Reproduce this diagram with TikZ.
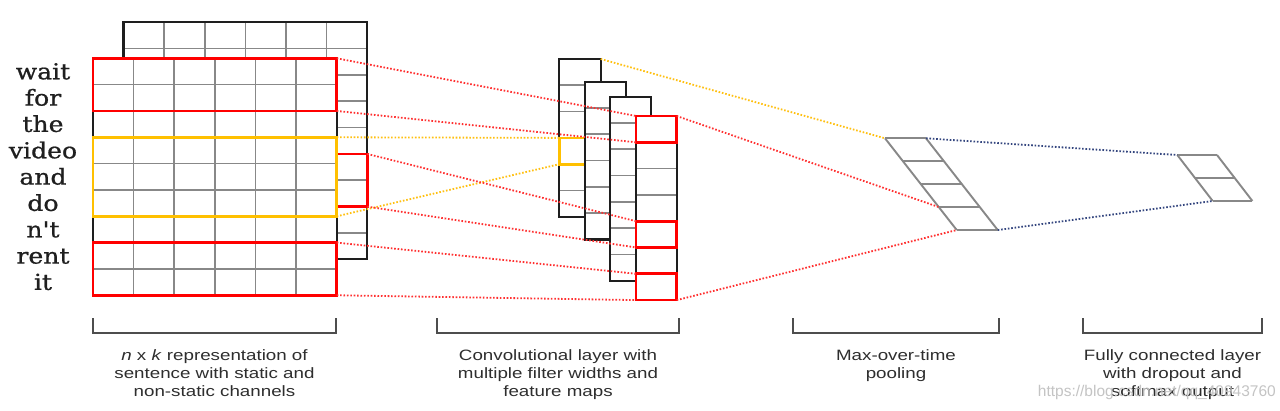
\documentclass[tikz,border=0pt]{standalone}
\usepackage{fontspec}
\usepackage{graphicx}
\setmainfont{Liberation Sans}
\newfontfamily\wordfont{DejaVu Serif}[FakeBold=0.8]
\newfontfamily\capfont{Liberation Sans}

\definecolor{gridgray}{HTML}{888888}
\definecolor{frameblack}{HTML}{1E1E1E}
\definecolor{selred}{HTML}{FF0000}
\definecolor{selyellow}{HTML}{FFC000}
\definecolor{dotred}{HTML}{FF3030}
\definecolor{dotyellow}{HTML}{FFC010}
\definecolor{dotblue}{HTML}{34467F}
\definecolor{txtgray}{HTML}{2E2E2E}
\definecolor{markgray}{HTML}{C4C4C4}

\pgfdeclarelayer{behind}
\pgfsetlayers{behind,main}

% caption block, slightly widened
\newcommand{\capt}[1]{\scalebox{1.25}[1]{\begin{tabular}{@{}c@{}}#1\end{tabular}}}
% one word of the sentence
\newcommand{\wordtxt}[1]{\scalebox{1.14}[1]{#1}}

\begin{document}
\begin{tikzpicture}[x=1pt,y=-1pt,
  sheet/.style={anchor=north west,inner sep=0pt,outer sep=0pt,fill=white,draw=none},
  gridline/.style={draw=gridgray,line width=1.6pt},
  frameline/.style={draw=frameblack,line width=2.1pt,line join=miter},
  redsel/.style={anchor=north west,inner sep=0pt,outer sep=0pt,draw=selred,line width=2.7pt},
  yelsel/.style={anchor=north west,inner sep=0pt,outer sep=0pt,draw=selyellow,line width=2.7pt},
  reddot/.style={draw=dotred,line width=1.8pt,dash pattern=on 1.6pt off 1.8pt},
  yeldot/.style={draw=dotyellow,line width=1.8pt,dash pattern=on 1.6pt off 1.8pt},
  bluedot/.style={draw=dotblue,line width=1.8pt,dash pattern=on 1.6pt off 1.8pt},
  slant/.style={draw=gridgray,line width=1.9pt},
  bracket/.style={draw=txtgray!85,line width=1.4pt},
  caption/.style={anchor=north,inner sep=0pt,text=txtgray,font={\capfont\fontsize{15}{18}\selectfont}},
  word/.style={anchor=base,inner sep=0pt,text=black!88,font={\wordfont\fontsize{22}{26}\selectfont}}
]
\useasboundingbox (0,0) rectangle (1280,411);
\fill[white] (0,0) rectangle (1280,411);

% ---------- input matrix: back channel ----------
\node[sheet,minimum width=243.8pt,minimum height=237pt] (back) at (123.5,22.3) {};
\foreach \i in {1,...,8}
  \draw[gridline] ([yshift=-\i*26.33pt]back.north west) -- ([yshift=-\i*26.33pt]back.north east);
\foreach \j in {1,...,5}
  \draw[gridline] ([xshift=\j*40.63pt]back.north west) -- ([xshift=\j*40.63pt]back.south west);
\draw[frameline] (back.north west) rectangle (back.south east);
\node[redsel,minimum width=243.8pt,minimum height=52.66pt] (backsel) at ([yshift=-5*26.33pt]back.north west) {};

% ---------- input matrix: front channel ----------
\node[sheet,minimum width=243.7pt,minimum height=237pt] (front) at (93,58.3) {};
\foreach \i in {1,...,8}
  \draw[gridline] ([yshift=-\i*26.33pt]front.north west) -- ([yshift=-\i*26.33pt]front.north east);
\foreach \j in {1,...,5}
  \draw[gridline] ([xshift=\j*40.62pt]front.north west) -- ([xshift=\j*40.62pt]front.south west);
\draw[frameline] (front.north west) rectangle (front.south east);
\node[redsel,minimum width=243.7pt,minimum height=52.66pt] (sel1) at (front.north west) {};
\node[yelsel,minimum width=243.7pt,minimum height=79pt] (yel) at ([yshift=-3*26.33pt]front.north west) {};
\node[redsel,minimum width=243.7pt,minimum height=52.66pt] (sel2) at ([yshift=-7*26.33pt]front.north west) {};

% ---------- sentence ----------
\node[word] (w1) at (43,79.3) {\wordtxt{wait}};
\node[word] (w2) at (43,105.6) {\wordtxt{for}};
\node[word] (w3) at (43,131.9) {\wordtxt{the}};
\node[word] (w4) at (43,158.3) {\wordtxt{video}};
\node[word] (w5) at (43,184.6) {\wordtxt{and}};
\node[word] (w6) at (43,210.9) {\wordtxt{do}};
\node[word] (w7) at (43,237.3) {\wordtxt{n't}};
\node[word] (w8) at (43,263.6) {\wordtxt{rent}};
\node[word] (w9) at (43,289.9) {\wordtxt{it}};

% ---------- feature maps ----------
\node[sheet,minimum width=41.4pt,minimum height=157.8pt] (c1) at (559.3,59) {};
\foreach \i in {1,...,5}
  \draw[gridline] ([yshift=-\i*26.3pt]c1.north west) -- ([yshift=-\i*26.3pt]c1.north east);
\draw[frameline] (c1.north west) rectangle (c1.south east);
\node[yelsel,minimum width=41.4pt,minimum height=26.3pt] (c1sel) at ([yshift=-3*26.3pt]c1.north west) {};

\node[sheet,minimum width=41pt,minimum height=157.8pt] (c2) at (585,81.7) {};
\foreach \i in {1,...,5}
  \draw[gridline] ([yshift=-\i*26.3pt]c2.north west) -- ([yshift=-\i*26.3pt]c2.north east);
\draw[frameline] (c2.north west) rectangle (c2.south east);

\node[sheet,minimum width=41pt,minimum height=184.1pt] (c3) at (610,96.7) {};
\foreach \i in {1,...,6}
  \draw[gridline] ([yshift=-\i*26.3pt]c3.north west) -- ([yshift=-\i*26.3pt]c3.north east);
\draw[frameline] (c3.north west) rectangle (c3.south east);

\node[sheet,minimum width=40.7pt,minimum height=184.1pt] (c4) at (636,116) {};
\foreach \i in {1,...,6}
  \draw[gridline] ([yshift=-\i*26.3pt]c4.north west) -- ([yshift=-\i*26.3pt]c4.north east);
\draw[frameline] (c4.north west) rectangle (c4.south east);
\node[redsel,minimum width=40.7pt,minimum height=26.3pt] (c4a) at (c4.north west) {};
\node[redsel,minimum width=40.7pt,minimum height=26.3pt] (c4b) at ([yshift=-4*26.3pt]c4.north west) {};
\node[redsel,minimum width=40.7pt,minimum height=26.3pt] (c4c) at ([yshift=-6*26.3pt]c4.north west) {};

% ---------- filters to feature maps ----------
\draw[reddot] (sel1.north east) -- (c4a.north west);
\draw[reddot] (sel1.south east) -- (c4a.south west);
\draw[yeldot] (yel.north east) -- (c1sel.north west);
\draw[yeldot] (yel.south east) -- (c1sel.south west);
\draw[reddot] (backsel.north east) -- (c4b.north west);
\draw[reddot] (backsel.south east) -- (c4b.south west);
\draw[reddot] (sel2.north east) -- (c4c.north west);
\draw[reddot] (sel2.south east) -- (c4c.south west);

% ---------- max-over-time pooling ----------
\foreach \k in {0,...,4} {
  \coordinate (p\k) at ({885+\k*17.93},{138.3+\k*22.93});
  \coordinate (q\k) at ({926+\k*17.93},{138.3+\k*22.93});
}
\foreach \k in {0,...,4}
  \draw[slant] (p\k) -- (q\k);
\draw[slant] (p0) -- (p4);
\draw[slant] (q0) -- (q4);

\draw[yeldot] (c1.north east) -- (p0);
\begin{pgfonlayer}{behind}
  \draw[yeldot] (c1.south east) -- (p1);
\end{pgfonlayer}
\draw[reddot] (c4a.north east) -- (p3);
\draw[reddot] (c4c.south east) -- (p4);

% ---------- fully connected layer ----------
\coordinate (f0) at (1177.3,155);
\coordinate (f1) at (1195,178);
\coordinate (f2) at (1212.7,201);
\coordinate (g0) at (1217,155);
\coordinate (g1) at (1234.7,178);
\coordinate (g2) at (1252.4,201);
\draw[slant] (f0) -- (g0);
\draw[slant] (f1) -- (g1);
\draw[slant] (f2) -- (g2);
\draw[slant] (f0) -- (f2);
\draw[slant] (g0) -- (g2);
\draw[bluedot] (q0) -- (f0);
\draw[bluedot] (q4) -- (f2);

% ---------- brackets and captions ----------
\draw[bracket] (93,318.5) -- (93,333) -- (336,333) -- (336,318.5);
\draw[bracket] (437,318.5) -- (437,333) -- (679,333) -- (679,318.5);
\draw[bracket] (793,318.5) -- (793,333) -- (999,333) -- (999,318.5);
\draw[bracket] (1083,318.5) -- (1083,333) -- (1262,333) -- (1262,318.5);

\node[caption] (cap1) at (214.5,347.4) {\capt{\textit{n} x \textit{k} representation of\\sentence with static and\\non-static channels}};
\node[caption] (cap2) at (558,347.4) {\capt{Convolutional layer with\\multiple filter widths and\\feature maps}};
\node[caption] (cap3) at (896,347.4) {\capt{Max-over-time\\pooling}};
\node[caption] (cap4) at (1172.5,347.4) {\capt{Fully connected layer\\with dropout and\\softmax output}};

\node[anchor=base east,inner sep=0pt,text=markgray,font={\capfont\fontsize{15.5}{18}\selectfont}] (mark) at (1276,397) {https://blog.csdn.net/qq\_40943760};
\end{tikzpicture}
\end{document}
